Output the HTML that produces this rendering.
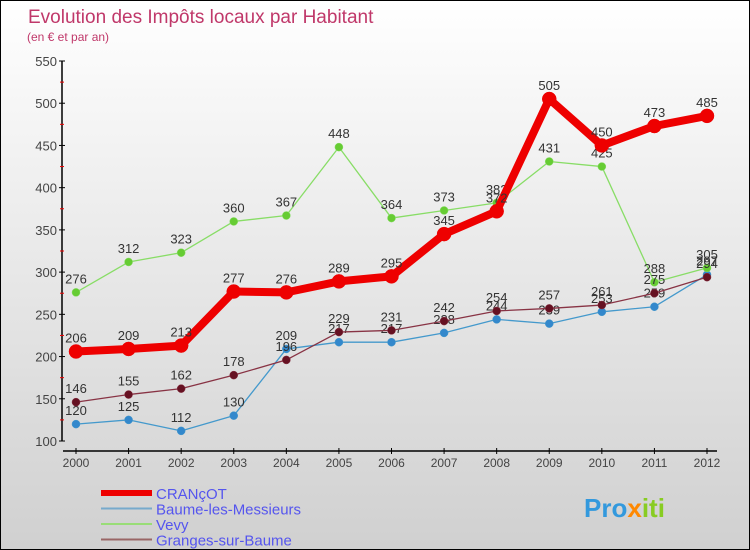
<!DOCTYPE html>
<html><head><meta charset="utf-8"><style>
body{margin:0}
#c{width:750px;height:550px;position:relative;overflow:hidden;background:linear-gradient(#fff 0%,#ececec 40%,#d0d0d0 100%);border:1px solid #000;box-sizing:border-box;font-family:"Liberation Sans",sans-serif}
</style></head><body>
<div id="c">
<svg id="s" width="750" height="550" style="position:absolute;left:0;top:0">
<text x="27" y="22" font-size="19" fill="#c0386a">Evolution des Impôts locaux par Habitant</text>
<text x="26" y="40" font-size="12" fill="#c0386a">(en € et par an)</text>
<g id="axes"></g><g id="series"></g>
<g id="legend" font-size="15" fill="#5555ee"></g>
<text x="583" y="516" font-size="26" font-weight="bold"><tspan fill="#3399dd">Pro</tspan><tspan fill="#ff8800">x</tspan><tspan fill="#88cc22">iti</tspan></text>
</svg></div>
<script>
const years=[2000,2001,2002,2003,2004,2005,2006,2007,2008,2009,2010,2011,2012];
const yTicks=[100,150,200,250,300,350,400,450,500,550];
const crancot=[206,209,213,277,276,289,295,345,372,505,450,473,485];
const baume=[120,125,112,130,209,217,217,228,244,239,253,259,297];
const vevy=[276,312,323,360,367,448,364,373,382,431,425,288,305];
const granges=[146,155,162,178,196,229,231,242,254,257,261,275,294];
const NS="http://www.w3.org/2000/svg";
const X=i=>75+i*(706-75)/12;
const Y=v=>440-(v-100)*(380/450);
function mk(t,a,p){const e=document.createElementNS(NS,t);for(const k in a)e.setAttribute(k,a[k]);p.appendChild(e);return e;}
const ax=document.getElementById('axes');
let l=mk('line',{x1:61,y1:60,x2:61,y2:440,stroke:'#000','stroke-width':1.5},ax);


l=mk('line',{x1:62,y1:450,x2:716,y2:450,stroke:'#000','stroke-width':1.5},ax);


yTicks.forEach((v,i)=>{
  mk('line',{x1:58,y1:Y(v),x2:64,y2:Y(v),stroke:'#000'},ax);
  if(i<yTicks.length-1)mk('line',{x1:59,y1:Y(v+25),x2:63,y2:Y(v+25),stroke:'#e00'},ax);
  const t=mk('text',{x:56,y:Y(v)+5,'font-size':13,fill:'#444','text-anchor':'end'},ax);t.textContent=v;
  
  
});
years.forEach((y,i)=>{
  mk('line',{x1:X(i),y1:447,x2:X(i),y2:453,stroke:'#000'},ax);
  const t=mk('text',{x:X(i),y:466,'font-size':12,fill:'#444','text-anchor':'middle'},ax);t.textContent=y;
  
  
});
const sg=document.getElementById('series');
function draw(d,name,col,dot,w,r){
  const g=mk('g',{},sg);
  
  
  mk('polyline',{points:d.map((v,i)=>X(i)+','+Y(v)).join(' '),fill:'none',stroke:col,'stroke-width':w,'stroke-linejoin':'round'},g);
  d.forEach((v,i)=>{
    const c=mk('circle',{cx:X(i),cy:Y(v),r:r,fill:dot,stroke:col,'stroke-width':0.5},g);
    
    
    const t=mk('text',{x:X(i),y:Y(v)-9,'font-size':13,fill:'#333','text-anchor':'middle'},g);t.textContent=v;
    
    
  });
}
draw(baume,'baume','#4499cc','#3388cc',1.3,4);
draw(vevy,'vevy','#88dd66','#66cc33',1.3,4);
draw(granges,'granges','#883344','#661122',1.3,4);
draw(crancot,'crancot','#ee0000','#ee0000',8,7);
const lg=document.getElementById('legend');
[['CRANçOT','#ee0000',6],['Baume-les-Messieurs','#77aacc',2],['Vevy','#99dd77',2],['Granges-sur-Baume','#996666',2]].forEach((e,i)=>{
  const y=492+i*15.5;
  const ln=mk('line',{x1:100,y1:y,x2:151,y2:y,stroke:e[1],'stroke-width':e[2]},lg);
  
  
  const t=mk('text',{x:155,y:y+6},lg);t.textContent=e[0];
  
  
});
</script>
</body></html>
